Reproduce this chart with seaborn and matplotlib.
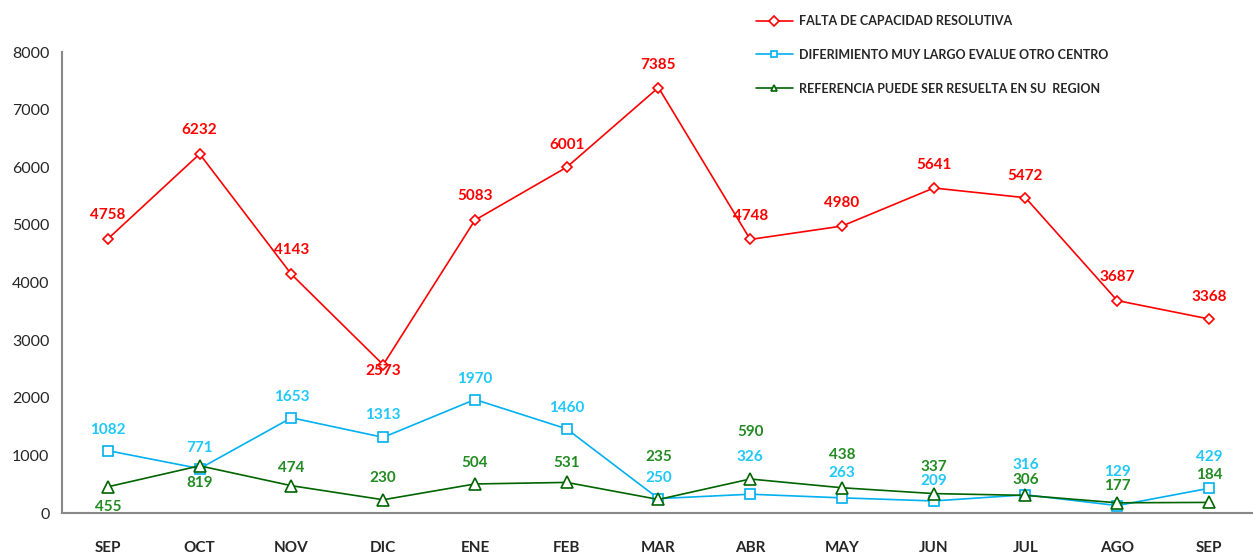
import numpy as np
import pandas as pd
import matplotlib
matplotlib.use("Agg")
import matplotlib.pyplot as plt
import seaborn as sns

# Data
months = ["SEP", "OCT", "NOV", "DIC", "ENE", "FEB", "MAR", "ABR", "MAY", "JUN", "JUL", "AGO", "SEP"]
falta = [4758, 6232, 4143, 2573, 5083, 6001, 7385, 4748, 4980, 5641, 5472, 3687, 3368]
diferimiento = [1082, 771, 1653, 1313, 1970, 1460, 250, 326, 263, 209, 316, 129, 429]
referencia = [455, 819, 474, 230, 504, 531, 235, 590, 438, 337, 306, 177, 184]
series_names = [
    "FALTA DE CAPACIDAD RESOLUTIVA",
    "DIFERIMIENTO MUY LARGO EVALUE OTRO CENTRO",
    "REFERENCIA PUEDE SER RESUELTA EN SU  REGION",
]

# label offsets in pixels (negative = above the point)
off_falta = [-24, -24, -24, 6, -24, -22, -23, -23, -23, -23, -22, -24, -22]
off_dif = [-21, -21, -21, -22, -21, -21, -21, -37, -25, -20, -30, -34, -31]
off_ref = [20, 17, -18, -22, -21, -19, -42, -47, -33, -27, -15, -17, -27]

sns.set_style("white")
plt.rcParams["font.family"] = ["Lato", "DejaVu Sans"]

fig = plt.figure(figsize=(12.53, 5.54), dpi=100)
ax = fig.add_axes([0.0495, 0.074, 0.952, 0.832])

x = np.arange(len(months))
styles = [
    (falta, "#FF0000", "#FF0000", "D", 5.5, off_falta),
    (diferimiento, "#00B0F0", "#1FC8F8", "s", 7.5, off_dif),
    (referencia, "#006400", "#228B22", "^", 8, off_ref),
]
for (vals, col, lcol, mk, ms, offs), name in zip(styles, series_names):
    df = pd.DataFrame({"x": x, "y": vals})
    sns.lineplot(data=df, x="x", y="y", ax=ax, color=col, lw=1.2, marker=mk,
                 markersize=ms, markerfacecolor="white", markeredgecolor=col,
                 markeredgewidth=1.2, label=name)
    for xi, v, o in zip(x, vals, offs):
        ax.annotate(str(v), (xi, v), xytext=(0, -o * 0.72), textcoords="offset points",
                    ha="center", va="center", fontsize=11, fontweight="bold", color=lcol)

ax.set_xlim(-0.5, len(months) - 0.5)
ax.set_ylim(0, 8000)
ax.set_yticks(np.arange(0, 8001, 1000))
ax.set_xticks(np.arange(-0.5, len(months), 1.0))
ax.set_xticklabels([])
ax.set_xticks(x, minor=True)
ax.set_xticklabels(months, minor=True, fontweight="bold", fontsize=11)
ax.tick_params(axis="x", which="major", direction="out", length=5, color="#888888", width=1)
ax.tick_params(axis="x", which="minor", length=0, pad=20)
ax.tick_params(axis="y", direction="out", length=5, color="#888888", width=1, labelsize=11.5, pad=4)
ax.set_xlabel("")
ax.set_ylabel("")
for s in ["top", "right"]:
    ax.spines[s].set_visible(False)
for s in ["left", "bottom"]:
    ax.spines[s].set_color("#888888")
    ax.spines[s].set_linewidth(1.5)

leg = ax.legend(loc="upper left", bbox_to_anchor=(0.572, 1.105), frameon=False,
                prop={"weight": "bold", "size": 9}, handlelength=3.0, labelspacing=1.75,
                handletextpad=0.5)
for h in leg.legend_handles:
    h.set_markersize(5)

fig.savefig("out.png", dpi=100)
